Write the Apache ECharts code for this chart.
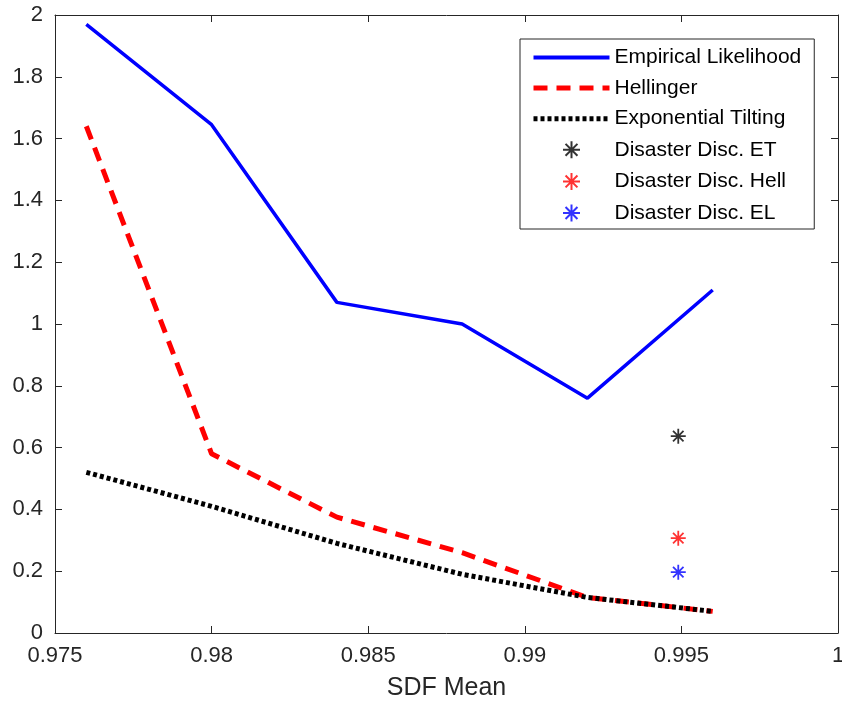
<!DOCTYPE html>
<html>
<head>
<meta charset="utf-8">
<script src="https://cdn.jsdelivr.net/npm/echarts@6/dist/echarts.min.js"></script>
<style>
  html, body { margin: 0; padding: 0; background: #fff; }
  #main { width: 842px; height: 714px; }
</style>
</head>
<body>
<div id="main"></div>
<script>
// values
var sdfMean = [0.976, 0.980, 0.984, 0.988, 0.992, 0.996];
var empLik = [1.97, 1.645, 1.07, 1.0, 0.76, 1.11];
var hellinger = [1.64, 0.58, 0.375, 0.26, 0.115, 0.07];
var expTilt = [0.52, 0.41, 0.29, 0.19, 0.115, 0.07];
var disasterX = 0.9949;
var disasterET = 0.637;
var disasterHell = 0.307;
var disasterEL = 0.197;

var star = 'path://M0,-6L0,6M-6,0L6,0M-4.2,-4.2L4.2,4.2M-4.2,4.2L4.2,-4.2';
var axisCol = '#262626';
var font = 'Liberation Sans, Arial, sans-serif';

function pairs(xs, ys) {
    var out = [];
    for (var i = 0; i < xs.length; i++) {
        out.push([xs[i], ys[i]]);
    }
    return out;
}

function starSeries(name, col, y) {
    return {
        name: name,
        type: 'scatter',
        symbol: star,
        symbolSize: 15,
        itemStyle: { color: 'none', borderColor: col, borderWidth: 1.8 },
        data: [[disasterX, y]]
    };
}

function lineSeries(name, col, w, dash, ys) {
    return {
        name: name,
        type: 'line',
        showSymbol: false,
        symbol: 'none',
        itemStyle: { color: col },
        lineStyle: { color: col, width: w, type: dash },
        data: pairs(sdfMean, ys)
    };
}

var hideDot = { opacity: 0 };

var myChart = echarts.init(document.getElementById('main'));
var option = {
    backgroundColor: '#fff',
    animation: false,
    grid: { left: 55, right: 4, top: 15, bottom: 81, outerBoundsMode: 'none', containLabel: false },
    legend: {
        orient: 'vertical',
        left: 520,
        top: 39,
        padding: [8, 13, 5, 11],
        itemWidth: 76,
        itemHeight: 17,
        itemGap: 9.6,
        borderColor: axisCol,
        borderWidth: 1,
        backgroundColor: '#fff',
        textStyle: { fontFamily: font, fontSize: 21, lineHeight: 20, color: '#000' },
        data: [
            { name: 'Empirical Likelihood', itemStyle: hideDot,
              lineStyle: { width: 4, type: 'solid' } },
            { name: 'Hellinger', itemStyle: hideDot,
              lineStyle: { width: 5, type: [14, 9] } },
            { name: 'Exponential Tilting', itemStyle: hideDot,
              lineStyle: { width: 5, type: [4, 3] } },
            { name: 'Disaster Disc. ET', icon: star },
            { name: 'Disaster Disc. Hell', icon: star },
            { name: 'Disaster Disc. EL', icon: star }
        ]
    },
    xAxis: [{
        type: 'value',
        min: 0.975,
        max: 1,
        interval: 0.005,
        name: 'SDF Mean',
        nameLocation: 'middle',
        nameGap: 43,
        nameTextStyle: { fontFamily: font, fontSize: 25, color: axisCol },
        axisLine: { show: true, lineStyle: { color: axisCol, width: 1 } },
        axisTick: { show: true, inside: true, length: 7, lineStyle: { color: axisCol } },
        axisLabel: {
            fontFamily: font, fontSize: 22, color: axisCol, margin: 12,
            formatter: function (v) { return String(+v.toFixed(3)); }
        },
        splitLine: { show: false }
    }, {
        type: 'value',
        position: 'top',
        min: 0.975,
        max: 1,
        interval: 0.005,
        axisLine: { show: true, onZero: false, lineStyle: { color: axisCol, width: 1 } },
        axisTick: { show: true, inside: true, length: 7, lineStyle: { color: axisCol } },
        axisLabel: { show: false },
        splitLine: { show: false }
    }],
    yAxis: [{
        type: 'value',
        min: 0,
        max: 2,
        interval: 0.2,
        axisLine: { show: true, lineStyle: { color: axisCol, width: 1 } },
        axisTick: { show: true, inside: true, length: 7, lineStyle: { color: axisCol } },
        axisLabel: {
            fontFamily: font, fontSize: 22, color: axisCol, margin: 12,
            formatter: function (v) { return String(+v.toFixed(1)); }
        },
        splitLine: { show: false }
    }, {
        type: 'value',
        position: 'right',
        min: 0,
        max: 2,
        interval: 0.2,
        axisLine: { show: true, onZero: false, lineStyle: { color: axisCol, width: 1 } },
        axisTick: { show: true, inside: true, length: 7, lineStyle: { color: axisCol } },
        axisLabel: { show: false },
        splitLine: { show: false }
    }],
    series: [
        lineSeries('Empirical Likelihood', '#0000ff', 3.5, 'solid', empLik),
        lineSeries('Hellinger', '#ff0000', 5, [14, 9], hellinger),
        lineSeries('Exponential Tilting', '#000000', 5, [4, 3], expTilt),
        starSeries('Disaster Disc. ET', '#000000', disasterET),
        starSeries('Disaster Disc. Hell', '#ff0000', disasterHell),
        starSeries('Disaster Disc. EL', '#0000ff', disasterEL)
    ]
};
myChart.setOption(option);
</script>
</body>
</html>
